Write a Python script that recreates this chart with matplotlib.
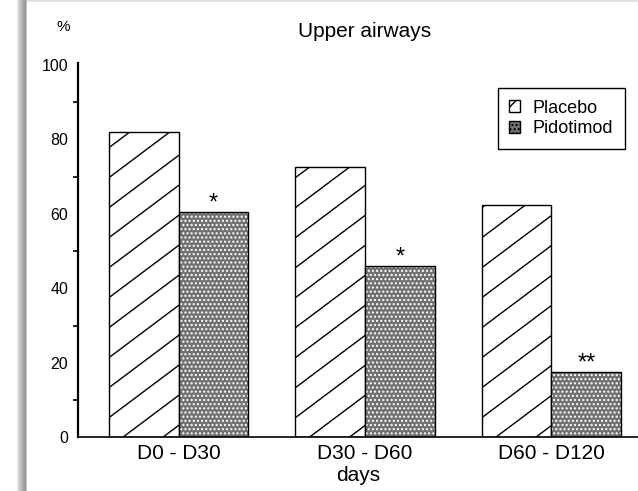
import numpy as np
import matplotlib
matplotlib.use("Agg")
import matplotlib.pyplot as plt
from matplotlib.patches import Rectangle, Patch
from matplotlib.ticker import FixedLocator

plt.rcParams['font.family'] = ['Liberation Sans', 'DejaVu Sans']
plt.rcParams['hatch.linewidth'] = 1.0

# Percentages per period
periods = ['D0 - D30', 'D30 - D60', 'D60 - D120']
placebo = [82, 72.5, 62.5]
pidotimod = [60.5, 46, 17.5]
signif = ['*', '*', '**']

fig = plt.figure(figsize=(6.38, 4.91), dpi=100)
ax = fig.add_axes([78 / 638, 0.109, 1 - 78 / 638, 0.7625])

x = np.arange(len(periods))
width = 0.375
stipple = '#727272'

placebo_bars = ax.bar(x - width / 2, placebo, width, color='white',
                      edgecolor='black', linewidth=1.0, zorder=2)
# gray stipple: white dot hatch on a gray face, then a black outline on top
ax.bar(x + width / 2, pidotimod, width, color=stipple, edgecolor='white',
       linewidth=0, hatch='....', zorder=2)
ax.bar(x + width / 2, pidotimod, width, color='none', edgecolor='black',
       linewidth=1.0, zorder=3)

ax.set_xlim(-0.539, 2.464)
ax.set_ylim(0, 100.5)

# sparse diagonal hatching for the placebo bars, clipped to each bar
pos = ax.get_position()
px_x = pos.width * fig.get_figwidth() * fig.dpi / (2.464 + 0.539)
px_y = pos.height * fig.get_figheight() * fig.dpi / 100.5
slope = 0.75 * px_x / px_y
step = 30 / px_y
for bar in placebo_bars:
    x0 = bar.get_x()
    x1 = x0 + bar.get_width()
    h = bar.get_height()
    c = -slope * (x1 - x0) + step * 0.4
    while c < h:
        ln, = ax.plot([x0, x1], [c, c + slope * (x1 - x0)], color='black',
                      linewidth=1.0, zorder=2.5)
        ln.set_clip_path(bar)
        c += step

for xi, v, s in zip(x, pidotimod, signif):
    ax.annotate(s, (xi + width / 2, v), xytext=(0, 2), textcoords='offset points',
                ha='center', va='baseline', fontsize=17)

ax.spines['top'].set_visible(False)
ax.spines['right'].set_visible(False)
ax.spines['left'].set_linewidth(1.6)
ax.spines['bottom'].set_linewidth(1.2)

ax.set_yticks([0, 20, 40, 60, 80, 100])
ax.yaxis.set_minor_locator(FixedLocator([10, 30, 50, 70, 90]))
ax.tick_params(axis='y', which='major', length=0, pad=7, labelsize=11.5)
ax.tick_params(axis='y', which='minor', length=3.5, width=1.2, direction='out')
ax.set_xticks(x)
ax.set_xticklabels(periods)
ax.tick_params(axis='x', length=0, pad=5, labelsize=15)
ax.set_xlabel('days', fontsize=15, labelpad=2)

ax.set_title('Upper airways', fontsize=15, x=(365 - 78) / 560, pad=19)
fig.text(63 / 638, 1 - 27 / 491, '%', fontsize=11, ha='center', va='center')

handles = [Patch(facecolor='white', edgecolor='black', hatch='//', linewidth=1.0),
           Patch(facecolor=stipple, edgecolor='black', hatch='....', linewidth=1.0)]
leg = ax.legend(handles, ['Placebo', 'Pidotimod'], loc='upper right',
                bbox_to_anchor=(625 / 638, 1 - 88 / 491), bbox_transform=fig.transFigure,
                borderaxespad=0, fontsize=13, fancybox=False, edgecolor='black',
                framealpha=1, handlelength=0.6, handleheight=0.65, handletextpad=0.7,
                labelspacing=0.2, borderpad=0.65)
leg.get_frame().set_linewidth(1.0)

# page shadow along the left edge and a faint line on top
shades = [0.9, 0.85, 0.8, 0.76, 0.72, 0.68, 0.64, 0.6, 0.62, 0.75]
for i, g in enumerate(shades):
    fig.add_artist(Rectangle(((17 + i) / 638, 0), 1 / 638, 1, transform=fig.transFigure,
                             facecolor=str(g), edgecolor='none'))
fig.add_artist(Rectangle((27 / 638, 1 - 2 / 491), 1, 2 / 491, transform=fig.transFigure,
                         facecolor='0.88', edgecolor='none'))

fig.savefig('out.png', dpi=100)
